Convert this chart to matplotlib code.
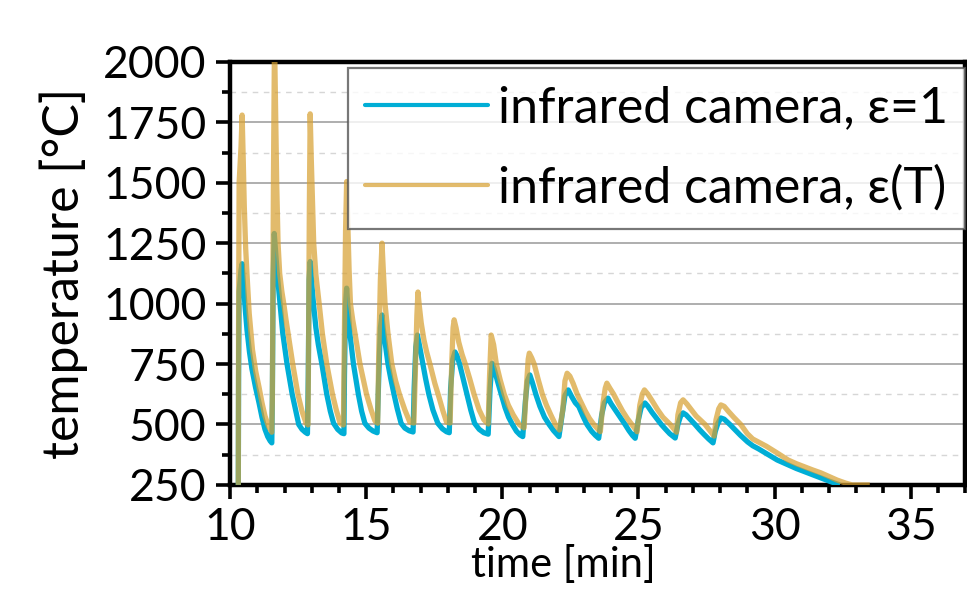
import matplotlib
matplotlib.use("Agg")
import matplotlib.pyplot as plt
from matplotlib.ticker import MultipleLocator

plt.rcParams['font.family'] = ['Lato', 'DejaVu Sans']

# ---- data ----
series_labels = ["infrared camera, ε=1", "infrared camera, ε(T)"]

# infrared camera, emissivity = 1  (time [min], temperature [°C])
blue_t = [10.30, 10.31, 10.33, 10.40, 10.44, 10.50, 10.56, 10.62, 10.71, 10.80,
          10.93, 11.06, 11.17, 11.28, 11.38, 11.47, 11.53,
          11.55, 11.58, 11.62, 11.66, 11.73, 11.83, 11.93, 12.09, 12.28, 12.52,
          12.64, 12.76, 12.84,
          12.87, 12.90, 12.94, 13.00, 13.07, 13.15, 13.24, 13.37, 13.55, 13.68,
          13.80, 13.95, 14.10, 14.18,
          14.20, 14.24, 14.28, 14.33, 14.40, 14.53, 14.71, 14.83, 14.95, 15.10,
          15.25, 15.40,
          15.46, 15.52, 15.58, 15.62, 15.68, 15.80, 15.90, 16.02, 16.14, 16.28,
          16.42, 16.58, 16.72,
          16.76, 16.82, 16.88, 16.95, 17.08, 17.18, 17.30, 17.45, 17.63, 17.80,
          17.95, 18.05,
          18.10, 18.18, 18.26, 18.33, 18.43, 18.56, 18.70, 18.84, 18.98, 19.15,
          19.32, 19.48,
          19.55, 19.62, 19.70, 19.82, 19.96, 20.10, 20.23, 20.37, 20.52, 20.65,
          20.75,
          20.85, 20.92, 21.01, 21.10, 21.23, 21.38, 21.55, 21.72, 21.88, 22.00,
          22.08,
          22.22, 22.30, 22.42, 22.55, 22.68, 22.81, 22.96, 23.11, 23.28, 23.42,
          23.54,
          23.65, 23.75, 23.88, 24.00, 24.15, 24.33, 24.51, 24.65, 24.78, 24.88,
          25.00, 25.10, 25.24, 25.35, 25.50, 25.67, 25.84, 26.00, 26.15, 26.28,
          26.35,
          26.45, 26.55, 26.64, 26.75, 26.90, 27.08, 27.25, 27.42, 27.58, 27.74,
          27.82, 27.92, 28.03, 28.15, 28.36, 28.55, 28.75, 29.01, 29.20, 29.40,
          29.70, 30.10, 30.50, 30.80, 31.10, 31.40, 31.70, 32.05, 32.40]
blue_T = [250, 700, 1050, 1140, 1165, 1060, 970, 890, 800, 730,
          655, 590, 530, 480, 450, 432, 424,
          600, 1100, 1290, 1230, 1125, 1000, 880, 750, 625, 500,
          480, 468, 462,
          700, 1100, 1174, 1080, 990, 900, 830, 750, 625, 555,
          505, 480, 465, 462,
          700, 1000, 1064, 980, 875, 750, 625, 555, 505, 485,
          473, 466,
          700, 900, 953, 900, 850, 750, 690, 625, 565, 505,
          485, 474, 469,
          650, 820, 870, 830, 750, 690, 625, 560, 505, 482,
          470, 466,
          650, 770, 800, 785, 750, 690, 625, 560, 505, 480,
          466, 460,
          650, 753, 730, 680, 625, 570, 530, 500, 472, 457,
          450,
          600, 680, 705, 675, 625, 575, 530, 500, 475, 460,
          450,
          560, 620, 643, 615, 590, 574, 535, 500, 472, 455,
          443,
          540, 590, 609, 585, 560, 530, 500, 475, 455, 443,
          520, 570, 589, 575, 550, 525, 500, 480, 462, 450,
          444,
          500, 535, 548, 540, 522, 500, 478, 458, 440, 424,
          470, 505, 527, 522, 500, 478, 455, 428, 412, 400,
          380, 353, 333, 318, 305, 292, 279, 264, 250]

# infrared camera, emissivity = f(T)
tan_t = [10.30, 10.31, 10.33, 10.40, 10.44, 10.48, 10.52, 10.57, 10.62, 10.70,
         10.82, 10.94, 11.06, 11.17, 11.28, 11.40, 11.53,
         11.55, 11.59, 11.63, 11.67, 11.71, 11.76, 11.82, 11.90, 11.97, 12.05,
         12.13, 12.30, 12.49, 12.64, 12.79, 12.86,
         12.88, 12.91, 12.94, 12.98, 13.02, 13.07, 13.15, 13.27, 13.39, 13.55,
         13.76, 13.90, 14.04, 14.16,
         14.20, 14.24, 14.28, 14.33, 14.37, 14.42, 14.50, 14.59, 14.77, 15.01,
         15.18, 15.32, 15.42,
         15.46, 15.52, 15.58, 15.63, 15.69, 15.80, 15.94, 16.08, 16.22, 16.42,
         16.60, 16.75,
         16.80, 16.86, 16.90, 16.95, 17.02, 17.12, 17.22, 17.34, 17.52, 17.68,
         17.82, 17.95, 18.08,
         18.14, 18.19, 18.23, 18.30, 18.40, 18.52, 18.64, 18.80, 18.96, 19.15,
         19.32, 19.48,
         19.53, 19.59, 19.68, 19.78, 19.92, 20.07, 20.22, 20.40, 20.62, 20.80,
         20.88, 20.95, 20.99, 21.08, 21.17, 21.32, 21.47, 21.62, 21.78, 21.95,
         22.10,
         22.22, 22.30, 22.38, 22.48, 22.60, 22.75, 22.90, 23.05, 23.20, 23.36,
         23.50, 23.60,
         23.70, 23.78, 23.84, 23.95, 24.09, 24.25, 24.42, 24.59, 24.76, 24.88,
         24.95,
         25.05, 25.14, 25.22, 25.35, 25.52, 25.70, 25.90, 26.17, 26.30, 26.40,
         26.45, 26.55, 26.64, 26.78, 26.95, 27.12, 27.28, 27.45, 27.62, 27.78,
         27.85, 27.95, 28.03, 28.15, 28.30, 28.50, 28.76, 29.00, 29.20, 29.40,
         29.70, 30.10, 30.50, 30.80, 31.10, 31.40, 31.70, 32.00, 32.30, 32.60,
         32.85, 33.50]
tan_T = [250, 900, 1500, 1650, 1780, 1600, 1400, 1230, 1120, 960,
         810, 720, 655, 590, 535, 495, 468,
         600, 1500, 2100, 1800, 1500, 1250, 1125, 1050, 1000, 935,
         875, 750, 625, 555, 505, 498,
         800, 1400, 1785, 1600, 1450, 1250, 1120, 1000, 875, 750,
         625, 560, 505, 498,
         900, 1300, 1505, 1300, 1140, 1000, 935, 875, 750, 625,
         560, 515, 505,
         800, 1100, 1250, 1130, 1000, 875, 750, 680, 625, 560,
         510, 506,
         700, 950, 1048, 990, 920, 850, 800, 750, 670, 610,
         555, 510, 506,
         750, 900, 933, 900, 840, 790, 750, 690, 625, 560,
         520, 502,
         700, 870, 830, 750, 685, 625, 580, 540, 500, 486,
         650, 770, 795, 775, 750, 685, 625, 580, 540, 500,
         477,
         560, 680, 712, 700, 670, 625, 590, 555, 525, 500,
         482, 470,
         590, 650, 671, 650, 625, 590, 555, 525, 500, 482,
         470,
         580, 625, 643, 625, 595, 562, 530, 500, 482, 468,
         540, 590, 602, 585, 560, 535, 518, 500, 475, 452,
         520, 565, 581, 575, 555, 530, 500, 462, 440, 428,
         410, 382, 353, 338, 325, 312, 300, 285, 270, 258,
         250, 250]

x_ticks = [10, 15, 20, 25, 30, 35]
y_ticks = [250, 500, 750, 1000, 1250, 1500, 1750, 2000]

# ---- figure ----
fig = plt.figure(figsize=(9.67, 5.95), dpi=100)
ax = fig.add_axes([0.238, 0.185, 0.760, 0.711])

blue = '#00aed6'
tan = '#d7a133'

ax.plot(blue_t, blue_T, color=blue, lw=3.8, label=series_labels[0], zorder=3,
        solid_joinstyle='round', solid_capstyle='butt')
ax.plot(tan_t, tan_T, color=tan, lw=3.8, alpha=0.72, label=series_labels[1],
        zorder=4, solid_joinstyle='round', solid_capstyle='butt')

ax.set_xlim(10, 37)
ax.set_ylim(250, 2000)
ax.set_xticks(x_ticks)
ax.set_yticks(y_ticks)
ax.xaxis.set_minor_locator(MultipleLocator(1))
ax.yaxis.set_minor_locator(MultipleLocator(125))

ax.grid(which='major', axis='y', color='#a8a8a8', lw=1.3, zorder=0)
ax.grid(which='minor', axis='y', color='#d6d6d6', lw=1.0, ls=(0, (4, 4)), zorder=0)
ax.set_axisbelow(True)

for s in ax.spines.values():
    s.set_linewidth(3.2)
    s.set_color('black')

ax.tick_params(which='major', direction='out', length=10, width=2.6,
               labelsize=32, pad=6)
ax.tick_params(which='minor', direction='out', length=5.5, width=2.6)
ax.tick_params(axis='y', which='major', pad=7)

ax.set_ylabel('temperature [°C]', fontsize=36)
ax.yaxis.set_label_coords(-0.193, 0.5)
ax.set_xlabel('time [min]', fontsize=30, va='top')
ax.xaxis.set_label_coords(0.453, -0.142)

leg = ax.legend(loc='upper right', bbox_to_anchor=(1.0, 0.986), fontsize=36,
                frameon=True, fancybox=False, edgecolor='#555555',
                handlelength=2.45, handletextpad=0.2, labelspacing=0.67,
                borderpad=0.35, borderaxespad=0.0)
leg.get_frame().set_linewidth(1.6)
for h in leg.get_lines():
    h.set_linewidth(3.0)
    h.set_solid_capstyle('round')

fig.savefig('out.png', dpi=100)
